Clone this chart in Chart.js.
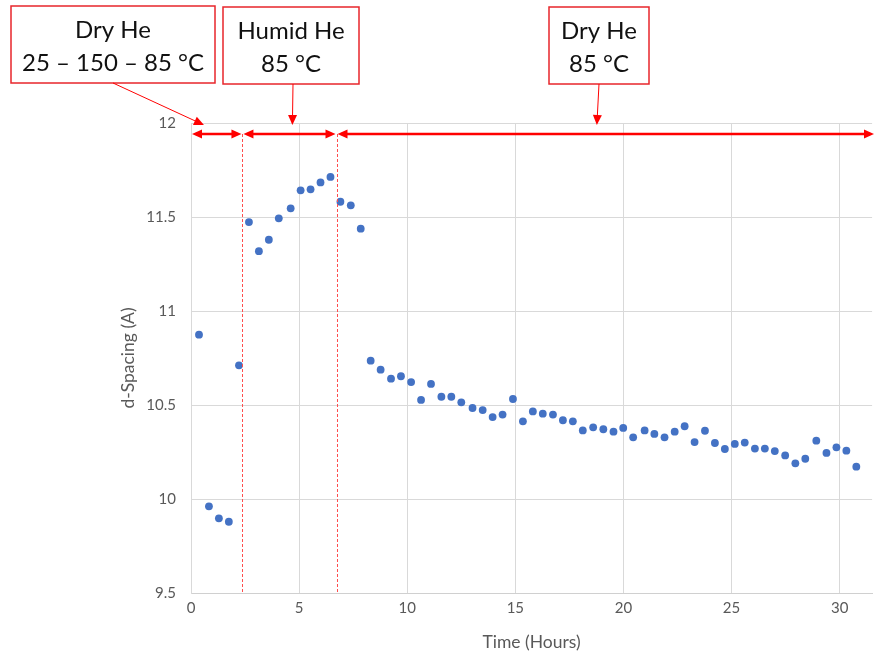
<!DOCTYPE html>
<html lang="en">
<head>
<meta charset="UTF-8">
<title>d-Spacing vs Time</title>
<script src="https://cdn.jsdelivr.net/npm/chart.js"></script>
<style>
  html, body { margin: 0; padding: 0; background: #fff; }
  #wrap { width: 876px; height: 655px; position: relative; }
</style>
</head>
<body>
<div id="wrap"><canvas id="chart"></canvas></div>
<script>
// time stamps (hours) and measured d-spacing
const timeHours = [
  0.37, 0.83, 1.29, 1.75, 2.22,
  2.68, 3.14, 3.60, 4.06, 4.61, 5.07, 5.53, 5.99, 6.45,
  6.91, 7.39, 7.85, 8.31, 8.77, 9.25, 9.71, 10.18, 10.64, 11.10, 11.58,
  12.04, 12.50, 13.02, 13.49, 13.95, 14.41, 14.89, 15.35, 15.81, 16.27,
  16.74, 17.20, 17.66, 18.12, 18.60, 19.07, 19.54, 19.99, 20.45, 20.98,
  21.43, 21.90, 22.37, 22.83, 23.29, 23.77, 24.23, 24.69, 25.15, 25.61,
  26.08, 26.54, 27.00, 27.48, 27.95, 28.41, 28.92, 29.39, 29.85, 30.31, 30.77
];
const dSpacing = [
  10.874, 9.961, 9.897, 9.879, 10.711,
  11.473, 11.318, 11.379, 11.493, 11.546, 11.642, 11.647, 11.684, 11.713,
  11.581, 11.562, 11.438, 10.736, 10.688, 10.640, 10.653, 10.622, 10.527, 10.612, 10.544,
  10.544, 10.514, 10.484, 10.473, 10.436, 10.449, 10.532, 10.413, 10.466, 10.454,
  10.449, 10.419, 10.413, 10.365, 10.381, 10.371, 10.358, 10.378, 10.328, 10.365,
  10.346, 10.328, 10.358, 10.387, 10.303, 10.363, 10.298, 10.266, 10.293, 10.300,
  10.268, 10.268, 10.255, 10.232, 10.190, 10.214, 10.310, 10.245, 10.275, 10.257, 10.172
];
const xTicks = [0, 5, 10, 15, 20, 25, 30];
const yTicks = [9.5, 10, 10.5, 11, 11.5, 12];

// gas switch times (hours) separating the three stages
const phaseBreaks = [2.38, 6.73];
const phaseNotes = [
  { lines: ['Dry He', '25 – 150 – 85 °C'], tip: 0.6 },
  { lines: ['Humid He', '85 °C'], tip: 4.69 },
  { lines: ['Dry He', '85 °C'], tip: 18.77 }
];

const RED = '#FF0000';
const FONT = 'Lato, "Liberation Sans", sans-serif';

function arrowHead(ctx, x, y, angle, len, half) {
  ctx.save();
  ctx.translate(x, y);
  ctx.rotate(angle);
  ctx.beginPath();
  ctx.moveTo(0, 0);
  ctx.lineTo(-len, -half);
  ctx.lineTo(-len, half);
  ctx.closePath();
  ctx.fill();
  ctx.restore();
}

// stage markers, spans and labelled callouts
const stagePlugin = {
  id: 'stages',
  afterDraw(chart) {
    const { ctx, chartArea: area, scales: { x } } = chart;
    const spanY = area.top + 11;
    const bounds = [x.getPixelForValue(0)]
      .concat(phaseBreaks.map(v => x.getPixelForValue(v)), [chart.width - 1]);

    ctx.save();
    // dashed switch lines
    ctx.strokeStyle = '#FF4D4D';
    ctx.lineWidth = 1;
    ctx.setLineDash([3, 2]);
    phaseBreaks.forEach(v => {
      const px = Math.round(x.getPixelForValue(v)) + 0.5;
      ctx.beginPath();
      ctx.moveTo(px, spanY);
      ctx.lineTo(px, area.bottom);
      ctx.stroke();
    });
    ctx.setLineDash([]);

    // double-headed span arrows
    ctx.strokeStyle = RED;
    ctx.fillStyle = RED;
    ctx.lineWidth = 2.5;
    for (let i = 0; i < bounds.length - 1; i++) {
      const a = bounds[i] + 1, b = bounds[i + 1] - 1;
      ctx.beginPath();
      ctx.moveTo(a + 4, spanY);
      ctx.lineTo(b - 4, spanY);
      ctx.stroke();
      arrowHead(ctx, a, spanY, Math.PI, 10, 4.5);
      arrowHead(ctx, b, spanY, 0, 10, 4.5);
    }

    // callout boxes
    const boxes = [
      { left: 11, right: 215, top: 6, bottom: 83, from: 113 },
      { left: 223, right: 359, top: 7, bottom: 84, from: 293 },
      { left: 549, right: 649, top: 7, bottom: 84, from: 599 }
    ];
    ctx.font = '24px ' + FONT;
    ctx.textAlign = 'center';
    ctx.textBaseline = 'middle';
    phaseNotes.forEach((note, i) => {
      const bx = boxes[i];
      ctx.fillStyle = '#fff';
      ctx.fillRect(bx.left, bx.top, bx.right - bx.left, bx.bottom - bx.top);
      ctx.strokeStyle = '#E8262B';
      ctx.lineWidth = 1.5;
      ctx.strokeRect(bx.left, bx.top, bx.right - bx.left, bx.bottom - bx.top);
      ctx.fillStyle = '#111';
      const cx = (bx.left + bx.right) / 2;
      ctx.fillText(note.lines[0], cx, bx.top + 24);
      ctx.fillText(note.lines[1], cx, bx.top + 57);

      // leader arrow down to the span
      const tx = x.getPixelForValue(note.tip);
      const ty = area.top + 2;
      const ang = Math.atan2(ty - bx.bottom, tx - bx.from);
      ctx.strokeStyle = RED;
      ctx.fillStyle = RED;
      ctx.lineWidth = 1;
      ctx.beginPath();
      ctx.moveTo(bx.from, bx.bottom);
      ctx.lineTo(tx - Math.cos(ang) * 8, ty - Math.sin(ang) * 8);
      ctx.stroke();
      arrowHead(ctx, tx, ty, ang, 10, 4.5);
    });
    ctx.restore();
  }
};

new Chart(document.getElementById('chart'), {
  type: 'scatter',
  data: {
    datasets: [{
      label: 'd-Spacing',
      data: timeHours.map((t, i) => ({ x: t, y: dSpacing[i] })),
      backgroundColor: '#4472C4',
      borderColor: '#4472C4',
      borderWidth: 0,
      pointRadius: 3.9,
      pointHoverRadius: 3.9
    }]
  },
  options: {
    responsive: true,
    maintainAspectRatio: false,
    animation: false,
    layout: { padding: { top: 123, left: 0, right: 0, bottom: 0 } },
    plugins: { legend: { display: false }, tooltip: { enabled: false } },
    scales: {
      x: {
        type: 'linear',
        min: 0,
        max: 31.5,
        afterBuildTicks: s => { s.ticks = xTicks.map(v => ({ value: v })); },
        afterFit: s => { s.height = 62; },
        grid: { color: '#D9D9D9', drawTicks: false },
        border: { color: '#D0D0D0' },
        ticks: { color: '#595959', font: { family: FONT, size: 15 }, padding: 6 },
        title: {
          display: true, text: 'Time (Hours)', color: '#595959',
          font: { family: FONT, size: 17.5 }, padding: { top: 0, bottom: 2 }
        }
      },
      y: {
        min: 9.5,
        max: 12,
        afterBuildTicks: s => { s.ticks = yTicks.map(v => ({ value: v })); },
        afterFit: s => { s.width = 191; },
        grid: { color: '#D9D9D9', drawTicks: false },
        border: { color: '#D9D9D9' },
        ticks: {
          color: '#595959', font: { family: FONT, size: 15 }, padding: 15,
          callback: v => String(v)
        },
        title: {
          display: true, text: 'd-Spacing (A)', color: '#595959',
          font: { family: FONT, size: 17.5 }, padding: { top: 118, bottom: 0 }
        }
      }
    }
  },
  plugins: [stagePlugin]
});
</script>
</body>
</html>
